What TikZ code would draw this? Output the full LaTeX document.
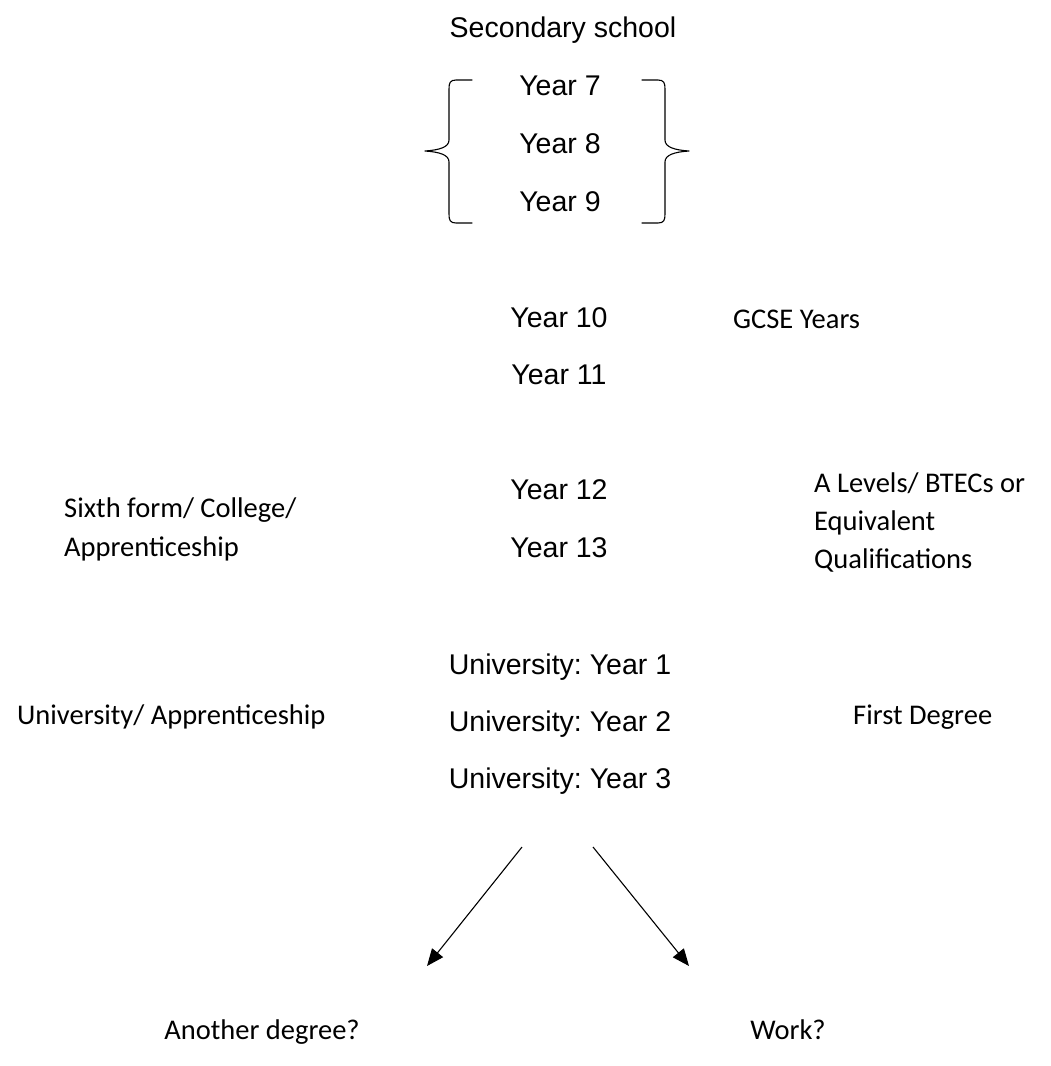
\documentclass[tikz,border=0pt]{standalone}
\usepackage{fontspec}
\newfontfamily\arialf{Liberation Sans}
\newfontfamily\calf{Carlito}
\usetikzlibrary{arrows.meta}
\begin{document}
\frenchspacing
\begin{tikzpicture}[x=1pt,y=-1pt,
  yr/.style={font=\arialf\fontsize{28.5}{34}\selectfont\frenchspacing, inner sep=0pt, anchor=base},
  lbl/.style={font=\calf\fontsize{28.5}{34}\selectfont\frenchspacing, inner sep=0pt, anchor=base west},
  lblc/.style={font=\calf\fontsize{28.5}{34}\selectfont\frenchspacing, inner sep=0pt, anchor=base},
  bracepath/.style={line width=1.1pt, line join=round, line cap=round},
  arr/.style={line width=1.1pt, -{Triangle[length=17pt,width=14pt]}}]
\useasboundingbox[fill=white] (0,0) rectangle (1051,1066);

% central column
\node[yr] (sec) at (563,37) {Secondary school};
\node[yr] (y7) at (560,95) {Year 7};
\node[yr] (y8) at (560,153) {Year 8};
\node[yr] (y9) at (560,211) {Year 9};
\node[yr] (y10) at (559,327) {Year 10};
\node[yr] (y11) at (559,384) {Year 11};
\node[yr] (y12) at (559,499) {Year 12};
\node[yr] (y13) at (559,557) {Year 13};
\node[yr] (u1) at (560,674) {University: Year 1};
\node[yr] (u2) at (560,731) {University: Year 2};
\node[yr] (u3) at (560,788) {University: Year 3};

% side labels
\node[lbl] (gcse) at (733,328) {GCSE Years};
\node[lbl] (six1) at (64,517) {Sixth form/ College/};
\node[lbl] (six2) at (64,556) {Apprenticeship};
\node[lbl] (al1) at (814,492) {A Levels/ BTECs or};
\node[lbl] (al2) at (814,530) {Equivalent};
\node[lbl] (al3) at (814,568) {Qualifications};
\node[lbl] (uniapp) at (17,724) {University/ Apprenticeship};
\node[lbl] (first) at (853,724) {First Degree};
\node[lblc] (another) at (262,1039) {Another degree?};
\node[lblc] (work) at (788,1039) {Work?};

% braces
\draw[bracepath] (472,80) -- (456,80) .. controls (450,80) and (449,83) .. (449,89)
  -- (449,140) .. controls (449,147) and (440,150) .. (425,151)
  .. controls (440,152) and (449,155) .. (449,162)
  -- (449,214) .. controls (449,220) and (450,223) .. (456,223) -- (472,223);
\draw[bracepath] (642,80) -- (658,80) .. controls (664,80) and (665,83) .. (665,89)
  -- (665,140) .. controls (665,147) and (674,150) .. (689,151)
  .. controls (674,152) and (665,155) .. (665,162)
  -- (665,214) .. controls (665,220) and (664,223) .. (658,223) -- (642,223);

% arrows
\coordinate (aLs) at (522,847);
\coordinate (aLe) at (427,966);
\coordinate (aRs) at (593,847);
\coordinate (aRe) at (689,966);
\draw[arr] (aLs) -- (aLe);
\draw[arr] (aRs) -- (aRe);
\end{tikzpicture}
\end{document}
